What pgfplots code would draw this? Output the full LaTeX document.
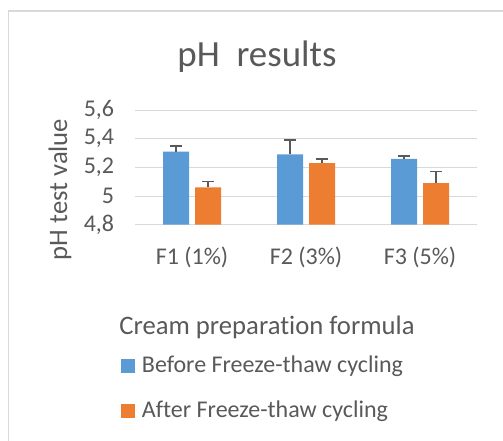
\documentclass[border=0pt]{standalone}
\usepackage{pgfplots}
\pgfplotsset{compat=1.18}
\usepackage{fontspec}
\setmainfont{Carlito}[Ligatures=NoCommon]
\definecolor{txt}{HTML}{595959}
\definecolor{grd}{HTML}{D9D9D9}
\definecolor{cblue}{HTML}{5B9BD5}
\definecolor{corange}{HTML}{ED7D31}
\begin{document}
\begin{tikzpicture}
\useasboundingbox (0,0) rectangle (377.25pt,330.75pt);
\begin{scope}[x=0.75pt,y=0.75pt]
\draw[grd, line width=1.1pt] (8.5,-5) -- (8.5,430) -- (510,430);
\node[anchor=base, text=txt, font=\fontsize{27.7}{30}\selectfont] at (257,374.3) {pH\ \ results};
\node[rotate=90, text=txt, font=\fontsize{20}{22}\selectfont] at (60,251.5) {pH test value};
\node[anchor=base, text=txt, font=\fontsize{20}{22}\selectfont] at (267,106) {Cream preparation formula};
\end{scope}
\begin{axis}[
  at={(101.25pt,162.2pt)}, anchor=south west,
  scale only axis, width=256.5pt, height=86pt,
  xmin=-0.5, xmax=2.5, ymin=4.8, ymax=5.6,
  ytick={4.8,5,5.2,5.4,5.6},
  xtick={0,1,2}, xticklabels={F1 (1\%),F2 (3\%),F3 (5\%)},
  major tick length=0pt,
  axis line style={draw=none},
  ymajorgrids, grid style={grd, line width=0.8pt},
  /pgf/number format/assume math mode=true,
  /pgf/number format/use comma,
  ticklabel style={text=txt, font=\fontsize{18}{20}\selectfont},
  yticklabel style={inner sep=0pt, xshift=-15.5pt},
  xticklabel style={inner sep=0pt, anchor=base, yshift=-29.5pt},
  ybar, bar width=19.5pt,
  legend style={at={(-0.0409,-1.1395)}, anchor=north west, draw=none, fill=none, inner sep=0pt,
    font=\fontsize{18}{20}\selectfont, text=txt, cells={anchor=base west},
    nodes={inner sep=0pt, text height=13pt, text depth=4pt},
    row sep=16.75pt, column sep=5pt},
  legend image code/.code={\fill[#1] (0pt,0pt) rectangle (10.5pt,10.5pt);},
  error bars/y dir=plus, error bars/y explicit,
  error bars/error bar style={txt, line width=1.1pt},
  error bars/error mark options={rotate=90, mark size=4.5pt, line width=1.1pt, txt},
]
\addplot[fill=cblue, draw=none, bar shift=-12pt] coordinates {(0,5.31) +- (0,0.04) (1,5.29) +- (0,0.10) (2,5.26) +- (0,0.02)};
\addplot[fill=corange, draw=none, bar shift=12pt] coordinates {(0,5.06) +- (0,0.04) (1,5.23) +- (0,0.03) (2,5.09) +- (0,0.08)};
\legend{Before Freeze-thaw cycling, After Freeze-thaw cycling}
\end{axis}
\end{tikzpicture}
\end{document}
